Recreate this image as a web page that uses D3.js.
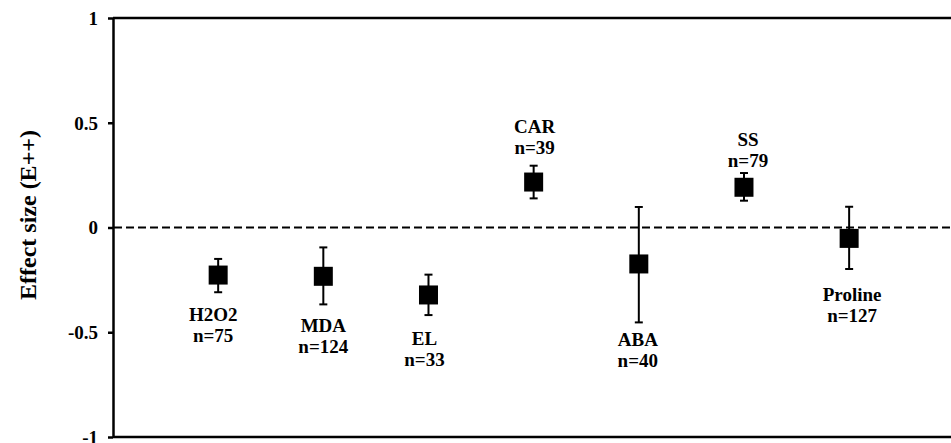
<!DOCTYPE html>
<html>
<head>
<meta charset="utf-8">
<script src="https://cdn.jsdelivr.net/npm/d3@7"></script>
<style>
  body { margin: 0; background: #fff; }
  text { font-family: "Liberation Serif", "Times New Roman", serif; font-weight: bold; fill: #000; }
</style>
</head>
<body>
<svg id="chart" width="951" height="443"></svg>
<script>
// Mean effect sizes with 95% confidence limits per trait
const categories = ["H2O2", "MDA", "EL", "CAR", "ABA", "SS", "Proline"];
const effectSize = [-0.227, -0.233, -0.322, 0.217, -0.174, 0.192, -0.052];
const ciLower    = [-0.309, -0.367, -0.418, 0.139, -0.453, 0.128, -0.198];
const ciUpper    = [-0.150, -0.095, -0.225, 0.295,  0.098, 0.260,  0.099];
const sampleSize = [75, 124, 33, 39, 40, 79, 127];
const yTicks = [-1, -0.5, 0, 0.5, 1];

// Layout
const plot = { left: 113, right: 954.3, top: 18, bottom: 437 };
const markSize = 19, capHalf = 4, lineGap = 21;
// small hand nudges for label placement (px)
const labelNudge = {
  H2O2: { dx: -5, dy: 0 }, MDA: { dx: 0, dy: -1 }, EL: { dx: -4, dy: 1.5 },
  CAR: { dx: 1, dy: -1.5 }, ABA: { dx: -1, dy: -5 }, SS: { dx: 4, dy: 4 },
  Proline: { dx: 3, dy: 4 }
};

const rows = categories.map((c, i) => ({
  cat: c, es: effectSize[i], lo: ciLower[i], hi: ciUpper[i], n: sampleSize[i]
}));

const svg = d3.select("#chart");

const y = d3.scaleLinear().domain([-1, 1]).range([plot.bottom, plot.top]);
const x = d3.scalePoint().domain(categories).range([plot.left, plot.right]).padding(1);

// Y axis
const yAxis = svg.append("g")
  .attr("transform", `translate(${plot.left},0)`)
  .call(d3.axisLeft(y).tickValues(yTicks).tickSize(5).tickSizeOuter(0).tickPadding(10)
    .tickFormat(d => String(d)));
yAxis.select(".domain").attr("stroke", "#000").attr("stroke-width", 2.5);
yAxis.selectAll(".tick line").attr("stroke", "#000").attr("stroke-width", 2.5);
yAxis.selectAll(".tick text").attr("font-size", 19).attr("dy", "0.33em")
  .style("font-family", "'Liberation Serif', 'Times New Roman', serif").style("font-weight", "bold");

// Frame lines at top and bottom
[1, -1].forEach(v => {
  svg.append("line")
    .attr("x1", plot.left).attr("x2", plot.right + 5)
    .attr("y1", y(v)).attr("y2", y(v))
    .attr("stroke", "#000").attr("stroke-width", 2.5);
});

// Zero reference line
svg.append("line")
  .attr("x1", plot.left + 1).attr("x2", plot.right + 5)
  .attr("y1", y(0)).attr("y2", y(0))
  .attr("stroke", "#000").attr("stroke-width", 2)
  .attr("stroke-dasharray", "8,4");

// Y axis title
svg.append("text")
  .attr("transform", `translate(28,215) rotate(-90)`)
  .attr("text-anchor", "middle")
  .attr("dominant-baseline", "central")
  .attr("font-size", 24)
  .text("Effect size (E++)");

// Error bars
const g = svg.append("g").selectAll("g").data(rows).join("g");
g.append("line")
  .attr("x1", d => x(d.cat)).attr("x2", d => x(d.cat))
  .attr("y1", d => y(d.lo)).attr("y2", d => y(d.hi))
  .attr("stroke", "#000").attr("stroke-width", 2);
["lo", "hi"].forEach(k => {
  g.append("line")
    .attr("x1", d => x(d.cat) - capHalf).attr("x2", d => x(d.cat) + capHalf)
    .attr("y1", d => y(d[k])).attr("y2", d => y(d[k]))
    .attr("stroke", "#000").attr("stroke-width", 2);
});

// Mean markers
g.append("rect")
  .attr("x", d => x(d.cat) - markSize / 2)
  .attr("y", d => y(d.es) - markSize / 2)
  .attr("width", markSize).attr("height", markSize)
  .attr("fill", "#000");

// Labels: below the bar for negative effects, above for positive
g.each(function (d) {
  const nudge = labelNudge[d.cat];
  const cx = x(d.cat) + nudge.dx;
  let first, second;
  if (d.es < 0) {
    first = y(d.lo) + 28.5 + nudge.dy;
    second = first + lineGap;
  } else {
    second = y(d.hi) - 10 + nudge.dy;
    first = second - lineGap;
  }
  const sel = d3.select(this);
  sel.append("text").attr("x", cx).attr("y", first)
    .attr("text-anchor", "middle").attr("font-size", 19).text(d.cat);
  sel.append("text").attr("x", cx).attr("y", second)
    .attr("text-anchor", "middle").attr("font-size", 19).text("n=" + d.n);
});
</script>
</body>
</html>
